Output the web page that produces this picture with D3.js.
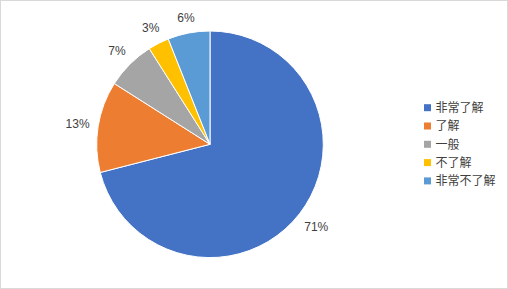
<!DOCTYPE html>
<html>
<head>
<meta charset="utf-8">
<script src="https://cdn.jsdelivr.net/npm/d3@7"></script>
<style>
  body { margin: 0; background: #fff; }
  svg { display: block; }
  text { font-family: "Liberation Sans", Arial, "Noto Sans CJK SC", sans-serif; }
</style>
</head>
<body>
<svg id="chart" width="508" height="289"></svg>
<script>
// categories + values (percent)
const categories = ["非常了解", "了解", "一般", "不了解", "非常不了解"];
const values = [71, 13, 7, 3, 6];
const colors = ["#4472C4", "#ED7D31", "#A5A5A5", "#FFC000", "#5B9BD5"];

const W = 508, H = 289;
const cx = 210, cy = 144.3, r = 113.3;

const svg = d3.select("#chart");

// chart border
svg.append("rect")
    .attr("x", 0.5).attr("y", 0.5)
    .attr("width", W - 1).attr("height", H - 1)
    .attr("fill", "#fff")
    .attr("stroke", "#d9d9d9");

const color = d3.scaleOrdinal().domain(categories).range(colors);

const pie = d3.pie().sort(null).value(d => d.value);
const arcs = pie(categories.map((c, i) => ({ name: c, value: values[i] })));
const arc = d3.arc().innerRadius(0).outerRadius(r);

const g = svg.append("g").attr("transform", `translate(${cx},${cy})`);

g.selectAll("path")
    .data(arcs)
    .enter()
    .append("path")
    .attr("d", arc)
    .attr("fill", d => color(d.data.name))
    .attr("stroke", "#fff")
    .attr("stroke-width", 1);

// labels outside end: push the text box just clear of the rim
const fs = 12;
g.selectAll("text.lbl")
    .data(arcs)
    .enter()
    .append("text")
    .attr("class", "lbl")
    .attr("font-size", fs)
    .attr("fill", "#404040")
    .attr("text-anchor", "middle")
    .attr("dy", "0.35em")
    .text(d => d.data.value + "%")
    .each(function(d) {
        const a = (d.startAngle + d.endAngle) / 2;
        const w = this.getComputedTextLength();
        const off = 8 + Math.abs(Math.sin(a)) * w / 2 + Math.abs(Math.cos(a)) * fs / 2;
        const rr = r + off;
        d3.select(this)
            .attr("x", Math.sin(a) * rr)
            .attr("y", -Math.cos(a) * rr);
    });

// legend
const legend = svg.append("g").attr("transform", "translate(424,107.7)");
const item = legend.selectAll("g")
    .data(categories)
    .enter()
    .append("g")
    .attr("transform", (d, i) => `translate(0,${i * 18.3})`);

item.append("rect")
    .attr("x", 0).attr("y", -3.5)
    .attr("width", 7).attr("height", 7)
    .attr("fill", d => color(d));

item.append("text")
    .attr("x", 11.5)
    .attr("dy", "0.35em")
    .attr("font-size", 12)
    .attr("fill", "#404040")
    .style("font-family", "'Noto Sans CJK SC', sans-serif")
    .text(d => d);
</script>
</body>
</html>
